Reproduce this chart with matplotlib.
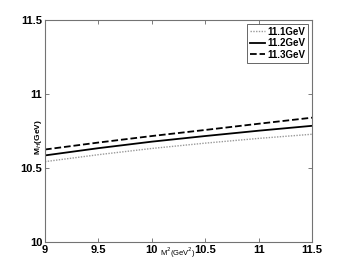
import matplotlib
matplotlib.use("Agg")
import matplotlib.pyplot as plt

plt.rcParams['font.family'] = ['Liberation Sans', 'DejaVu Sans']

x = [9, 9.5, 10, 10.5, 11, 11.5]
m111 = [10.543, 10.590, 10.632, 10.668, 10.700, 10.728]
m112 = [10.585, 10.634, 10.678, 10.716, 10.752, 10.785]
m113 = [10.625, 10.672, 10.716, 10.757, 10.799, 10.840]
labels = ["11.1GeV", "11.2GeV", "11.3GeV"]
xticks = [9, 9.5, 10, 10.5, 11, 11.5]
yticks = [10, 10.5, 11, 11.5]

fig = plt.figure(figsize=(3.45, 2.73), dpi=100)
ax = fig.add_axes([45 / 345, 1 - 242 / 273, 267 / 345, 222 / 273])

ax.plot(x, m111, color='0.6', linestyle=(0, (1, 1)), linewidth=1.0, label=labels[0])
ax.plot(x, m112, color='black', linestyle='-', linewidth=1.3, label=labels[1])
ax.plot(x, m113, color='black', linestyle='--', linewidth=1.3, label=labels[2])

ax.set_xlim(9, 11.5)
ax.set_ylim(10, 11.5)
ax.set_xticks(xticks)
ax.set_yticks(yticks)
ax.set_xticklabels(["9", "9.5", "10", "10.5", "11", "11.5"], fontsize=8, fontweight='bold')
ax.set_yticklabels(["10", "10.5", "11", "11.5"], fontsize=8, fontweight='bold')
ax.tick_params(direction='in', length=3, width=0.6, color='0.4', top=True, right=True, pad=2)
for s in ax.spines.values():
    s.set_color('0.45')
    s.set_linewidth(0.8)

ax.text(10.245, -0.015, "M$^2$(GeV$^2$)", transform=ax.get_xaxis_transform(),
        ha='center', va='top', fontsize=5.5)
ax.text(-0.025, 10.71, "M$_H$(GeV)", transform=ax.get_yaxis_transform(),
        rotation=90, ha='center', va='center', fontsize=6, fontweight='bold')

leg = ax.legend(loc='upper right', handlelength=1.6, handletextpad=0.2,
                borderpad=0.3, labelspacing=0.15, fancybox=False, framealpha=1,
                borderaxespad=0.4, prop={'weight': 'bold', 'size': 7})
leg.get_frame().set_edgecolor('0.3')
leg.get_frame().set_linewidth(0.6)

fig.savefig("out.png", dpi=100)
